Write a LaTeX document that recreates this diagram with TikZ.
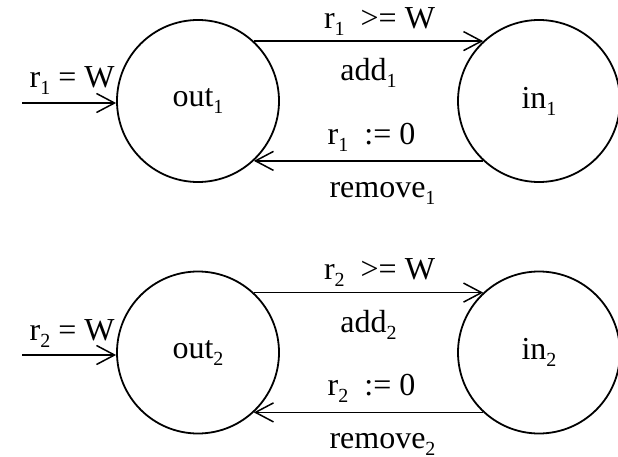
\documentclass[tikz,border=0pt]{standalone}
\usepackage{fontspec}
\setmainfont{Liberation Serif}
\usetikzlibrary{arrows.meta}
\newcommand{\sbx}[1]{\raisebox{-7pt}{\fontsize{20}{20}\selectfont #1}}

\begin{document}
\begin{tikzpicture}[x=1pt,y=-1pt,font=\fontsize{32}{38}\selectfont,
  state/.style={draw,circle,line width=1.8pt,minimum size=162pt,inner sep=0pt},
  trans/.style={line width=1.5pt,-{Straight Barb[length=18pt,width=19pt]}}]
\useasboundingbox (0,0) rectangle (618,457);

\node[state] (out1) at (198,101) {out\sbx{1}};
\node[state] (in1) at (539,101) {in\sbx{1}};
\node[state] (out2) at (198,352.5) {out\sbx{2}};
\node[state] (in2) at (539,352.5) {in\sbx{2}};

\coordinate (start1) at (22,103);
\coordinate (start2) at (22,355);

\draw[trans] (start1) -- node[anchor=base,yshift=15pt,xshift=3pt] (init1) {r\sbx{1} = W} (start1 -| out1.west);
\draw[trans] (out1.47) -- node[anchor=base,yshift=13pt,xshift=11pt] (guard1) {r\sbx{1}\ \ >= W}
  node[anchor=base,yshift=-39.5pt] (add1) {add\sbx{1}} (in1.133);
\draw[trans] (in1.-133) -- node[anchor=base,yshift=16.5pt,xshift=3pt] (reset1) {r\sbx{1}\ \ := 0}
  node[anchor=base,yshift=-36.5pt,xshift=14pt] (remove1) {remove\sbx{1}} (out1.-47);

\draw[trans] (start2) -- node[anchor=base,yshift=15pt,xshift=3pt] (init2) {r\sbx{2} = W} (start2 -| out2.west);
\draw[trans] (out2.47) -- node[anchor=base,yshift=13pt,xshift=11pt] (guard2) {r\sbx{2}\ \ >= W}
  node[anchor=base,yshift=-39.5pt] (add2) {add\sbx{2}} (in2.133);
\draw[trans] (in2.-133) -- node[anchor=base,yshift=16.5pt,xshift=3pt] (reset2) {r\sbx{2}\ \ := 0}
  node[anchor=base,yshift=-36.5pt,xshift=14pt] (remove2) {remove\sbx{2}} (out2.-47);
\end{tikzpicture}
\end{document}
